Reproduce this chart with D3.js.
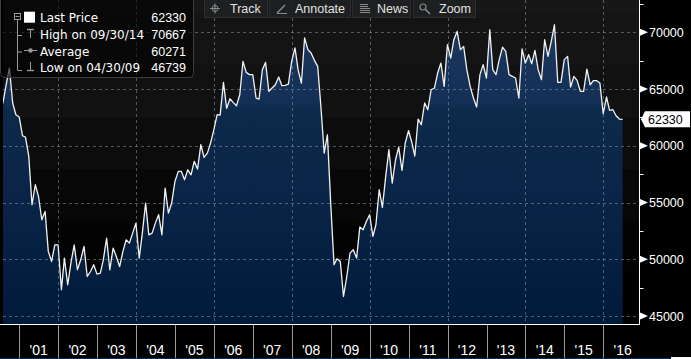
<!DOCTYPE html>
<html>
<head>
<meta charset="utf-8">
<script src="https://cdn.jsdelivr.net/npm/d3@7"></script>
<style>
html,body{margin:0;padding:0;background:#000;}
svg{display:block;}
</style>
</head>
<body>
<svg id="chart" width="691" height="359"></svg>
<script>
// ---- data (monthly closes, end of month, starting June 2000) ----
const startMonth = "2000-06-30";
const prices = [
  63600,63770,65390,66850,63770,62740,62540,60890,60770,59070,54810,56570,
  55540,53490,54220,50700,49810,51280,51280,47320,50110,47760,49670,51280,
  49080,49960,51140,48490,48930,49520,48700,48790,49960,51870,49080,50990,
  50250,49370,50700,51720,51430,52310,53190,50110,52310,54960,52160,52310,
  53190,53930,52160,56280,54070,54960,56860,57750,57750,57010,57890,57450,
  58630,57950,60100,58980,59360,60240,61420,62740,62700,65590,63300,64150,
  63830,63530,64500,67440,66470,66270,66270,64210,64120,66710,67350,64800,
  65090,65380,66060,65300,65330,65440,67440,68620,66710,65530,69500,68470,
  68180,67530,67000,63470,59360,60980,54950,49520,50050,49810,46739,48490,
  50550,50840,50110,52840,52600,53340,53930,52020,53050,56130,54570,57310,
  59660,56720,58770,59890,57830,60240,61330,60300,59100,62360,61860,63770,
  63180,64940,65090,66410,67290,65240,68910,67730,69350,70080,68470,68760,
  66710,65240,64210,63420,66270,67150,65970,70230,66710,66270,67590,68700,
  68320,66270,66120,65970,64210,68530,67290,68030,67230,68410,66710,65820,
  69350,67880,69200,70667,65590,65590,67590,67880,65180,66120,65770,64800,
  64800,66760,65380,65740,65740,65530,62830,64300,63120,63180,62650,62360,
  62330
];
const yTicks = [45000, 50000, 55000, 60000, 65000, 70000];
const yMinorTicks = [47500, 52500, 57500, 62500, 67500, 72500];
const years = [2001,2002,2003,2004,2005,2006,2007,2008,2009,2010,2011,2012,2013,2014,2015,2016];
const yearLabels = ["'01","'02","'03","'04","'05","'06","'07","'08","'09","'10","'11","'12","'13","'14","'15","'16"];
const gridYears = [2002,2004,2006,2008,2010,2012,2014,2016];
const legendLabels = ["Last Price","High on 09/30/14","Average","Low on 04/30/09"];
const legendValues = ["62330","70667","60271","46739"];
const lastPrice = 62330;
const toolbarLabels = ["Track","Annotate","News","Zoom"];

// ---- build ----
const parse = d3.timeParse("%Y-%m-%d");
const start = parse(startMonth);
const data = prices.map((v, i) => {
  const d = d3.timeMonth.offset(d3.timeMonth.floor(start), i + 1);
  return {date: d3.timeDay.offset(d, -1), value: v};
});

const svg = d3.select("#chart");
const W = 691, H = 359;
const plot = {left: 3, right: 639.5, top: 0, bottom: 324};

const x = d3.scaleTime()
  .domain([new Date(2001,0,1), new Date(2016,0,1)])
  .range([19.3, 603.3]);
const y = d3.scaleLinear().domain([45000, 70000]).range([316.1, 32.3]);

// background
svg.append("rect").attr("width", W).attr("height", H).attr("fill", "#000");
const bandColors = ["#171717","#141414","#111111","#0c0c0c","#070707","#030303","#000000"];
const bandEdges = [0, 13, 65, 117, 169, 221, 273, 324];
svg.append("g").selectAll("rect").data(bandColors).join("rect")
  .attr("x", plot.left).attr("width", plot.right - plot.left)
  .attr("y", (d, i) => bandEdges[i]).attr("height", (d, i) => bandEdges[i+1] - bandEdges[i])
  .attr("fill", d => d);

const defs = svg.append("defs");
defs.append("clipPath").attr("id", "clip").append("rect")
  .attr("x", plot.left).attr("y", plot.top)
  .attr("width", plot.right - plot.left).attr("height", plot.bottom - plot.top);
const grad = defs.append("linearGradient").attr("id", "fillGrad")
  .attr("gradientUnits", "userSpaceOnUse").attr("x1", 0).attr("x2", 0).attr("y1", 20).attr("y2", 324);
[[0, "#1d3962"], [0.27, "#132f55"], [0.30, "#0d2a4a"], [0.6, "#0a2447"], [1, "#001a3a"]]
  .forEach(([o, c]) => grad.append("stop").attr("offset", o).attr("stop-color", c));

const g = svg.append("g").attr("clip-path", "url(#clip)");

const area = d3.area().x(d => x(d.date)).y0(plot.bottom).y1(d => y(d.value));
const line = d3.line().x(d => x(d.date)).y(d => y(d.value));

g.append("path").datum(data).attr("d", area).attr("fill", "url(#fillGrad)");

// gridlines
const gridStyle = sel => sel.attr("stroke", "#8595a8").attr("stroke-opacity", 0.55)
  .attr("stroke-width", 1).attr("stroke-dasharray", "3,3");
g.append("g").selectAll("line").data(yTicks).join("line")
  .attr("x1", plot.left).attr("x2", plot.right)
  .attr("y1", d => Math.round(y(d)) + 0.5).attr("y2", d => Math.round(y(d)) + 0.5)
  .call(gridStyle);
g.append("g").selectAll("line").data(gridYears).join("line")
  .attr("x1", d => Math.round(x(new Date(d,0,1))) + 0.5).attr("x2", d => Math.round(x(new Date(d,0,1))) + 0.5)
  .attr("y1", plot.top).attr("y2", plot.bottom)
  .call(gridStyle);

g.append("path").datum(data).attr("d", line)
  .attr("fill", "none").attr("stroke", "#f2f2f2").attr("stroke-width", 1.3)
  .attr("stroke-linejoin", "round");

// axes lines
svg.append("line").attr("x1", 0).attr("x2", plot.right + 0.5).attr("y1", 324.5).attr("y2", 324.5)
  .attr("stroke", "#fff").attr("stroke-width", 1);
svg.append("line").attr("x1", plot.right).attr("x2", plot.right).attr("y1", 0).attr("y2", 325)
  .attr("stroke", "#fff").attr("stroke-width", 1);

// y axis ticks & labels
const yAxis = svg.append("g");
yAxis.selectAll("path.flag").data(yTicks).join("path")
  .attr("d", d => { const yy = y(d); return `M640,${yy-3.5}L648,${yy}L640,${yy+3.5}Z`; })
  .attr("fill", "#fff");
yAxis.selectAll("line.minor").data(yMinorTicks).join("line")
  .attr("x1", 640).attr("x2", 643.5)
  .attr("y1", d => Math.round(y(d)) + 0.5).attr("y2", d => Math.round(y(d)) + 0.5)
  .attr("stroke", "#fff");
yAxis.selectAll("text").data(yTicks).join("text")
  .attr("x", 649).attr("y", d => y(d) + 4.5)
  .attr("fill", "#fff").attr("font-family", "Liberation Sans, Arial, sans-serif")
  .attr("font-size", "12.5px").text(d => d);

// last price tag
const ly = y(lastPrice);
svg.append("path")
  .attr("d", `M641,${ly}L645,${ly-8}L690,${ly-8}L690,${ly+8}L645,${ly+8}Z`)
  .attr("fill", "#fff");
svg.append("text").attr("x", 648).attr("y", ly + 4.8)
  .attr("fill", "#000").attr("font-family", "Liberation Sans, Arial, sans-serif")
  .attr("font-size", "12.5px").text(lastPrice);

// x axis: separators & labels
const xAxis = svg.append("g");
xAxis.selectAll("line").data(years).join("line")
  .attr("x1", d => Math.round(x(new Date(d,0,1))) + 0.5).attr("x2", d => Math.round(x(new Date(d,0,1))) + 0.5)
  .attr("y1", 325).attr("y2", 359)
  .attr("stroke", "#9a9a9a");
xAxis.selectAll("text").data(years).join("text")
  .attr("x", d => x(new Date(d,6,1)))
  .attr("y", 355).attr("text-anchor", "middle")
  .attr("fill", "#fff").attr("font-family", "Liberation Sans, Arial, sans-serif")
  .attr("font-size", "14px").text((d, i) => yearLabels[i]);
svg.append("line").attr("x1", 0).attr("x2", 671).attr("y1", 358.5).attr("y2", 358.5)
  .attr("stroke", "#0b2a5c");
svg.append("rect").attr("x", 671).attr("y", 357).attr("width", 20).attr("height", 2).attr("fill", "#fff");

// legend
const lg = svg.append("g");
lg.append("rect").attr("x", 0.5).attr("y", -4).attr("width", 193).attr("height", 81.5)
  .attr("rx", 4).attr("fill", "#000").attr("fill-opacity", 0.6)
  .attr("stroke", "#3d3d3d").attr("stroke-width", 1);
const rowY = [22.3, 39, 55.5, 72];
lg.selectAll("text.lab").data(legendLabels).join("text")
  .attr("x", 40).attr("y", (d, i) => rowY[i])
  .attr("fill", "#fff").attr("font-family", "DejaVu Sans, sans-serif")
  .attr("font-size", "12px").text(d => d);
lg.selectAll("text.val").data(legendValues).join("text")
  .attr("x", 186).attr("y", (d, i) => rowY[i]).attr("text-anchor", "end")
  .attr("fill", "#fff").attr("font-family", "Liberation Sans, Arial, sans-serif")
  .attr("font-size", "12.5px").text(d => d);
const iconCol = "#9a9a9a";
// tree
lg.append("rect").attr("x", 14.5).attr("y", 13.5).attr("width", 6).attr("height", 6)
  .attr("fill", "none").attr("stroke", iconCol);
lg.append("line").attr("x1", 15.5).attr("x2", 19.5).attr("y1", 16.5).attr("y2", 16.5).attr("stroke", iconCol);
lg.append("line").attr("x1", 17.5).attr("x2", 17.5).attr("y1", 20).attr("y2", 70.5).attr("stroke", iconCol);
[35, 51.5, 70].forEach(yy => lg.append("line").attr("x1", 17.5).attr("x2", 22).attr("y1", yy + 0.5).attr("y2", yy + 0.5).attr("stroke", iconCol));
lg.append("rect").attr("x", 24).attr("y", 11.7).attr("width", 11).attr("height", 11).attr("fill", "#fff");
// high icon
lg.append("line").attr("x1", 27).attr("x2", 34).attr("y1", 29.5).attr("y2", 29.5).attr("stroke", iconCol).attr("stroke-width", 1.4);
lg.append("line").attr("x1", 30.5).attr("x2", 30.5).attr("y1", 29.5).attr("y2", 38).attr("stroke", iconCol);
// average icon
lg.append("line").attr("x1", 24).attr("x2", 37).attr("y1", 50.5).attr("y2", 50.5).attr("stroke", iconCol);
lg.append("circle").attr("cx", 30.5).attr("cy", 50.5).attr("r", 2.2).attr("fill", iconCol);
// low icon
lg.append("line").attr("x1", 30.5).attr("x2", 30.5).attr("y1", 62).attr("y2", 70.5).attr("stroke", iconCol);
lg.append("line").attr("x1", 27).attr("x2", 34).attr("y1", 70.5).attr("y2", 70.5).attr("stroke", iconCol).attr("stroke-width", 1.4);

// toolbar
const btnX = [[204, 267], [269, 350], [352, 410], [413, 475]];
const btnTextX = [230, 295, 377, 439];
const tb = svg.append("g");
tb.selectAll("rect").data(btnX).join("rect")
  .attr("x", d => d[0] + 0.5).attr("y", -1).attr("width", d => d[1] - d[0]).attr("height", 18.5)
  .attr("fill", "#1e2022").attr("fill-opacity", 0.9).attr("stroke", "#2c2e31");
tb.selectAll("text").data(toolbarLabels).join("text")
  .attr("x", (d, i) => btnTextX[i]).attr("y", 13)
  .attr("fill", "#e2e2e2").attr("font-family", "Liberation Sans, Arial, sans-serif")
  .attr("font-size", "12.5px").text(d => d);
const ic = "#8a8a8a";
// crosshair
tb.append("circle").attr("cx", 215).attr("cy", 8.5).attr("r", 3).attr("fill", "none").attr("stroke", ic);
tb.append("line").attr("x1", 210).attr("x2", 220).attr("y1", 8.5).attr("y2", 8.5).attr("stroke", ic);
tb.append("line").attr("x1", 215).attr("x2", 215).attr("y1", 3.5).attr("y2", 13.5).attr("stroke", ic);
// pencil
tb.append("line").attr("x1", 277).attr("x2", 285).attr("y1", 13).attr("y2", 5).attr("stroke", ic).attr("stroke-width", 1.5);
tb.append("line").attr("x1", 277).attr("x2", 287).attr("y1", 13.5).attr("y2", 13.5).attr("stroke", ic);
// news
[4.5, 6.5, 8.5, 10.5, 12.5].forEach((yy, i) => tb.append("line").attr("x1", 360).attr("x2", i < 2 ? 368 : 370)
  .attr("y1", yy).attr("y2", yy).attr("stroke", ic));
// magnifier
tb.append("circle").attr("cx", 423).attr("cy", 7).attr("r", 3).attr("fill", "none").attr("stroke", ic).attr("stroke-width", 1.2);
tb.append("line").attr("x1", 425.5).attr("x2", 430).attr("y1", 9.5).attr("y2", 14).attr("stroke", ic).attr("stroke-width", 1.6);
</script>
</body>
</html>
